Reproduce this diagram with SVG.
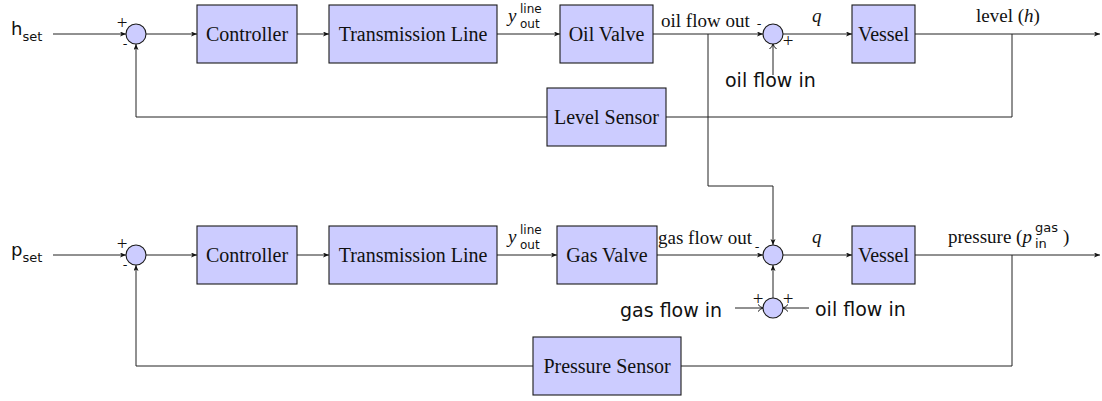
<svg xmlns="http://www.w3.org/2000/svg" width="1102" height="401" viewBox="0 0 1102 401">
<style>
.box{fill:#ccccff;stroke:#1a1a1a;stroke-width:1.1}
.sum{fill:#ccccff;stroke:#1a1a1a;stroke-width:1.1}
.w{fill:none;stroke:#222;stroke-width:1}
.a{marker-end:url(#lx)}
.v{marker-end:url(#to)}
.bl{font-family:"Liberation Serif",serif;font-size:20px;fill:#111;text-anchor:middle}
.el{font-family:"Liberation Serif",serif;font-size:19px;fill:#111}
.it{font-style:italic}
.ss{font-family:"DejaVu Sans",sans-serif;fill:#111}
.sg{font-family:"Liberation Serif",serif;font-size:19px;fill:#111;text-anchor:middle}
.mn{font-family:"DejaVu Sans",sans-serif;font-size:13px;fill:#111;text-anchor:middle}
</style>
<defs>
<marker id="lx" markerUnits="userSpaceOnUse" markerWidth="8" markerHeight="6" refX="6" refY="2.5" orient="auto">
<path d="M0,0 L6,2.5 L0,5 L1.5,2.5 z" fill="#111"/>
</marker>
<marker id="to" markerUnits="userSpaceOnUse" markerWidth="8" markerHeight="10" refX="6" refY="4" orient="auto">
<path d="M1,0.5 Q3,3 6,4 Q3,5 1,7.5" fill="none" stroke="#111" stroke-width="1"/>
</marker>
</defs>

<g id="connectors">
<path class="w a" d="M53,34 H126"/>
<path class="w a" d="M146,34 H197"/>
<path class="w a" d="M297,34 H329"/>
<path class="w a" d="M497,34 H560"/>
<path class="w a" d="M653,34 H763"/>
<path class="w a" d="M783,34 H852"/>
<path class="w a" d="M915,34 H1100"/>
<path class="w" d="M1012,34 V117 H666"/>
<path class="w a" d="M547,117 H136 V44"/>
<path class="w v" d="M773,75 V44"/>
<path class="w a" d="M708,34 V186 H773 V245"/>
<path class="w a" d="M53,255 H126"/>
<path class="w a" d="M146,255 H197"/>
<path class="w a" d="M297,255 H329"/>
<path class="w a" d="M497,255 H557"/>
<path class="w a" d="M657,255 H763"/>
<path class="w a" d="M783,255 H852"/>
<path class="w a" d="M915,255 H1100"/>
<path class="w" d="M1012,255 V366 H681"/>
<path class="w a" d="M533,366 H136 V265"/>
<path class="w a" d="M773,298 V265"/>
<path class="w v" d="M735,308 H763"/>
<path class="w v" d="M809,308 H783"/>
</g>

<g id="sum1"><circle class="sum" cx="136" cy="34" r="10"/></g>
<g id="ctrl1"><rect class="box" x="197" y="5" width="100" height="58"/><text class="bl" x="247" y="41">Controller</text></g>
<g id="tl1"><rect class="box" x="329" y="5" width="168" height="58"/><text class="bl" x="413" y="41">Transmission Line</text></g>
<g id="oilvalve"><rect class="box" x="560" y="5" width="93" height="58"/><text class="bl" x="606.5" y="41">Oil Valve</text></g>
<g id="sum2"><circle class="sum" cx="773" cy="34" r="10"/></g>
<g id="vessel1"><rect class="box" x="852" y="5" width="63" height="58"/><text class="bl" x="883.5" y="41">Vessel</text></g>
<g id="levelsensor"><rect class="box" x="547" y="88" width="119" height="58"/><text class="bl" x="606.5" y="124">Level Sensor</text></g>

<g id="sum3"><circle class="sum" cx="136" cy="255" r="10"/></g>
<g id="ctrl2"><rect class="box" x="197" y="226" width="100" height="58"/><text class="bl" x="247" y="262">Controller</text></g>
<g id="tl2"><rect class="box" x="329" y="226" width="168" height="58"/><text class="bl" x="413" y="262">Transmission Line</text></g>
<g id="gasvalve"><rect class="box" x="557" y="226" width="100" height="58"/><text class="bl" x="607" y="262">Gas Valve</text></g>
<g id="sum4"><circle class="sum" cx="773" cy="255" r="10"/></g>
<g id="sum5"><circle class="sum" cx="773" cy="308" r="10"/></g>
<g id="vessel2"><rect class="box" x="852" y="226" width="63" height="58"/><text class="bl" x="883.5" y="262">Vessel</text></g>
<g id="pressuresensor"><rect class="box" x="533" y="337" width="148" height="58"/><text class="bl" x="607" y="373">Pressure Sensor</text></g>

<g id="labels">
<text class="ss" x="11" y="35" font-size="18">h<tspan font-size="13" dy="6">set</tspan></text>
<text class="ss" x="11" y="256" font-size="18">p<tspan font-size="13" dy="6">set</tspan></text>
<text class="sg" x="122" y="29">+</text>
<text class="mn" x="125" y="48">-</text>
<text class="sg" x="122" y="250">+</text>
<text class="mn" x="125" y="269">-</text>

<text class="el it" x="508" y="22">y</text>
<text class="ss" x="520" y="13" font-size="12">line</text>
<text class="ss" x="520" y="28" font-size="12">out</text>
<text class="el it" x="508" y="243">y</text>
<text class="ss" x="520" y="234" font-size="12">line</text>
<text class="ss" x="520" y="249" font-size="12">out</text>

<text class="el" x="661" y="27">oil flow out</text>
<text class="mn" x="759" y="28">-</text>
<text class="sg" x="788" y="47">+</text>
<text class="ss" x="725" y="87" font-size="19">oil flow in</text>
<text class="el it" x="812" y="22">q</text>
<text class="el" x="976" y="22">level (<tspan class="it">h</tspan>)</text>

<text class="el" x="658" y="244">gas flow out</text>
<text class="mn" x="757" y="251">-</text>
<text class="el it" x="812" y="243">q</text>
<text class="el" x="948" y="243">pressure (<tspan class="it">p</tspan></text>
<text class="ss" x="1035" y="232" font-size="13">gas</text>
<text class="ss" x="1035" y="248" font-size="13">in</text>
<text class="el" x="1063" y="243">)</text>
<text class="ss" x="620" y="317" font-size="19">gas flow in</text>
<text class="sg" x="758" y="305">+</text>
<text class="sg" x="788" y="305">+</text>
<text class="ss" x="815" y="316" font-size="19">oil flow in</text>
</g>
</svg>
